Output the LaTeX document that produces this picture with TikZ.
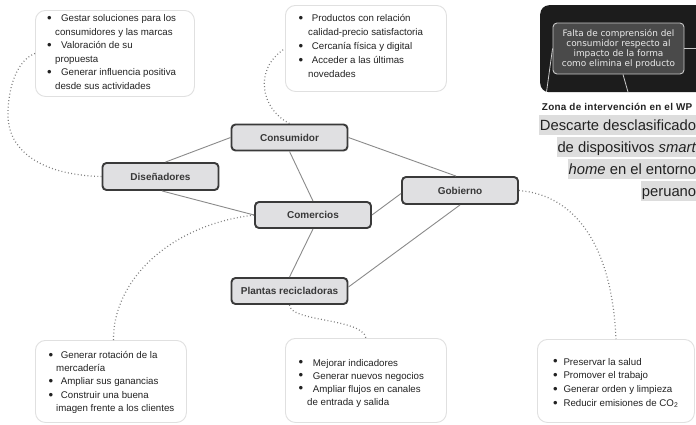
\documentclass[tikz,border=0pt]{standalone}
\usepackage{fontspec}
\setmainfont{Liberation Sans}
\newfontfamily\dejavu{DejaVu Sans}
\usetikzlibrary{calc}

\definecolor{nodefill}{HTML}{E0E0E2}
\definecolor{nodeline}{HTML}{3A3A3A}
\definecolor{linkgray}{HTML}{8A8A8A}
\definecolor{dotgray}{HTML}{7E7E7E}
\definecolor{boxline}{HTML}{E0E0E0}
\definecolor{txt}{HTML}{222222}
\definecolor{panelbg}{HTML}{1C1C1C}
\definecolor{innerfill}{HTML}{4A4A4A}
\definecolor{innerline}{HTML}{C8C8C8}
\definecolor{hl}{HTML}{DDDDDD}

% bullet mark followed by a fixed gap before the item text
\newcommand\bu[1]{\makebox[#1][l]{\raisebox{-0.1em}{\scalebox{1.35}{\textbullet}}}}

\begin{document}
\begin{tikzpicture}[x=1pt,y=-1pt,
  actor/.style={draw=nodeline, line width=1.9pt, fill=nodefill, rounded corners=4pt,
    minimum width=116pt, minimum height=26pt, inner sep=0pt,
    font=\fontsize{10}{12}\selectfont\bfseries, text=txt!90},
  link/.style={draw=linkgray, line width=0.9pt},
  dots/.style={draw=dotgray, line width=1.2pt, dash pattern=on 0.9pt off 2.4pt},
  infobox/.style={draw=boxline, line width=0.9pt, fill=white, rounded corners=10pt,
    anchor=north west, inner sep=0pt},
  bline/.style={anchor=base west, inner sep=0pt, font=\fontsize{9.7}{12}\selectfont, text=txt},
  hline/.style={anchor=base east, fill=hl, inner xsep=0.6pt, inner ysep=0pt,
    text height=15.5pt, text depth=5pt, font=\fontsize{14.8}{18}\selectfont, text=txt},
  panelline/.style={draw=innerline, line width=0.8pt}
]
\useasboundingbox (0,0) rectangle (696,424);
\fill[white] (0,0) rectangle (696,424);

% ---- dark panel with the problem statement
\node[fill=panelbg, rounded corners=9pt, minimum width=175pt, minimum height=87pt,
      anchor=north west, inner sep=0pt] (panel) at (540,5) {};
\coordinate (p1) at (546.5,92);
\coordinate (p2) at (628,92);
\coordinate (p3) at (700,48.5);
\node[fill=innerfill, draw=innerline, line width=0.9pt, rounded corners=4pt,
      minimum width=131pt, minimum height=51pt, inner sep=1pt, align=center,
      font=\dejavu\fontsize{8.9}{10}\selectfont, text=white!92!black] (gap) at (618.5,48.5)
      {Falta de comprensión del\\consumidor respecto al\\impacto de la forma\\como elimina el producto};
\draw[panelline] (gap.west) -- (p1);
\draw[panelline] ([xshift=4.5pt]gap.south) -- (p2);
\draw[panelline] (gap.east) -- (p3);

\node[anchor=base west, inner sep=0pt, font=\fontsize{9.9}{11}\selectfont\bfseries\addfontfeature{LetterSpace=3}, text=txt]
  (zona) at (541.7,110) {Zona de intervención en el WP};

\node[hline] (h1) at (697,130) {Descarte desclasificado};
\node[hline] (h2) at (697,152) {de dispositivos \textit{smart}};
\node[hline] (h3) at (697,174) {\textit{home} en el entorno};
\node[hline] (h4) at (697,196) {peruano};

% ---- information boxes
\node[infobox, minimum width=159pt, minimum height=86pt] (bxdis) at (35,10) {};
\node[infobox, minimum width=161pt, minimum height=86pt] (bxcon) at (285,5) {};
\node[infobox, minimum width=151pt, minimum height=82pt] (bxcom) at (35,340) {};
\node[infobox, minimum width=161pt, minimum height=84pt] (bxpla) at (285,338) {};
\node[infobox, minimum width=157pt, minimum height=83pt] (bxgob) at (537,339) {};

% designers
\node[bline] (d1) at (47,21.7) {\bu{14pt}Gestar soluciones para los};
\node[bline] (d2) at (47,35.2) {\hspace*{8pt}consumidores y las marcas};
\node[bline] (d3) at (47,48.7) {\bu{14pt}Valoración de su};
\node[bline] (d4) at (47,62.2) {\hspace*{8pt}propuesta};
\node[bline] (d5) at (47,75.7) {\bu{14pt}Generar influencia positiva};
\node[bline] (d6) at (47,89.2) {\hspace*{8pt}desde sus actividades};

% consumer
\node[bline] (c1) at (298.5,21.7) {\bu{13.2pt}Productos con relación};
\node[bline] (c2) at (298.5,35.7) {\hspace*{9.5pt}calidad-precio satisfactoria};
\node[bline] (c3) at (298.5,49.7) {\bu{13.2pt}Cercanía física y digital};
\node[bline] (c4) at (298.5,63.7) {\bu{13.2pt}Acceder a las últimas};
\node[bline] (c5) at (298.5,77.7) {\hspace*{9.5pt}novedades};

% retailers
\node[bline] (m1) at (48.5,358.3) {\bu{12.2pt}Generar rotación de la};
\node[bline] (m2) at (48.5,371.6) {\hspace*{7.5pt}mercadería};
\node[bline] (m3) at (48.5,384.9) {\bu{12.2pt}Ampliar sus ganancias};
\node[bline] (m4) at (48.5,398.2) {\bu{12.2pt}Construir una buena};
\node[bline] (m5) at (48.5,411.5) {\hspace*{7.5pt}imagen frente a los clientes};

% recycling plants
\node[bline] (r1) at (298.5,366) {\bu{14.2pt}Mejorar indicadores};
\node[bline] (r2) at (298.5,379) {\bu{14.2pt}Generar nuevos negocios};
\node[bline] (r3) at (298.5,392) {\bu{14.2pt}Ampliar flujos en canales};
\node[bline] (r4) at (298.5,405) {\hspace*{8.5pt}de entrada y salida};

% government
\node[bline] (g1) at (552.8,365) {\bu{10.5pt}Preservar la salud};
\node[bline] (g2) at (552.8,378.7) {\bu{10.5pt}Promover el trabajo};
\node[bline] (g3) at (552.8,392.4) {\bu{10.5pt}Generar orden y limpieza};
\node[bline] (g4) at (552.8,406.1) {\bu{10.5pt}Reducir emisiones de CO\textsubscript{2}};

% ---- actors
\node[actor] (cons) at (289.5,137.5) {Consumidor};
\node[actor, minimum height=27pt] (dis) at (160.5,176.5) {Diseñadores};
\node[actor] (com) at (313,215) {Comercios};
\node[actor, minimum height=27pt] (gob) at (460,190.5) {Gobierno};
\node[actor] (pla) at (289.5,291) {Plantas recicladoras};

% ---- relations between actors
\draw[link] (cons.west) -- ([xshift=5pt]dis.north);
\draw[link] (cons.south) -- (com.north);
\draw[link] (cons.east) -- ([xshift=-4pt]gob.north);
\draw[link] ([xshift=1.5pt]dis.south) -- (com.west);
\draw[link] (com.east) -- ([yshift=-3pt]gob.west);
\draw[link] (com.south) -- (pla.north);
\draw[link] ([yshift=4pt]pla.east) -- (gob.south);

% ---- dotted leaders to the information boxes
\coordinate (dc) at (8,115);
\draw[dots] (dis.west) .. controls (40,175) and (8,150) .. (dc)
            .. controls (8,85) and (18,60) .. (bxdis.west);
\draw[dots] (cons.north) .. controls (262,110) and (252,70) .. (bxcon.west);
\draw[dots] (com.west) .. controls (170,225) and (113,280) .. ([xshift=2.5pt]bxcom.north);
\draw[dots] (pla.south) .. controls (290,322) and (362,318) .. (bxpla.north);
\draw[dots] (gob.east) .. controls (575,195) and (612,245) .. (bxgob.north);
\end{tikzpicture}
\end{document}
